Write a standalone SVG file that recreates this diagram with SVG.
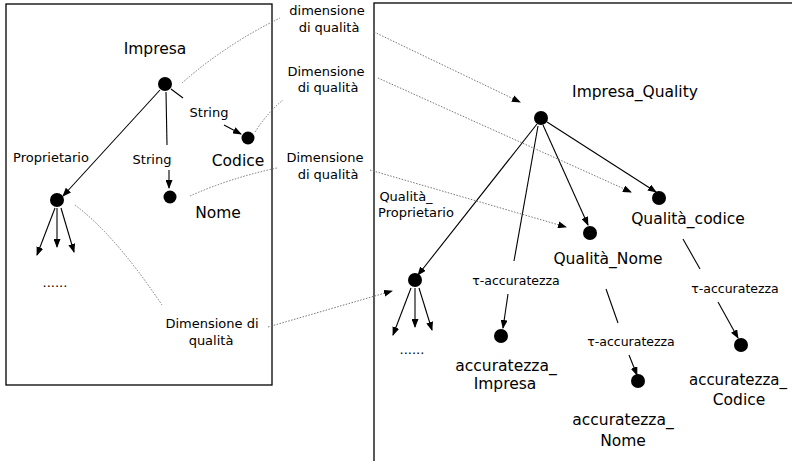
<svg xmlns="http://www.w3.org/2000/svg" width="792" height="461" viewBox="0 0 792 461">
  <defs>
    <marker id="arrow" markerUnits="userSpaceOnUse" markerWidth="9" markerHeight="7" refX="8" refY="3.5" orient="auto">
      <path d="M0,0 L9,3.5 L0,7 z" fill="#000"/>
    </marker>
  </defs>
  <style>
    text { font-family: "DejaVu Sans", "Liberation Sans", sans-serif; fill: #000; }
    .big { font-size: 15.5px; text-anchor: middle; }
    .mid { font-size: 13px; text-anchor: middle; }
    .sm { font-size: 12.5px; text-anchor: middle; }
    .box { fill: #fff; stroke: #000; stroke-width: 1.3; }
    .edge { stroke: #000; stroke-width: 1.1; fill: none; }
    .arr { marker-end: url(#arrow); }
    .dot { stroke: #777; stroke-width: 1; stroke-dasharray: 1.5 1.5; fill: none; }
    .node { fill: #000; }
  </style>

  <!-- panels -->
  <rect class="box" x="6" y="4" width="266" height="381"/>
  <rect class="box" x="374" y="3" width="430" height="470"/>

  <!-- connectors -->
  <g id="connectors">
    <!-- left tree -->
    <line class="edge arr" x1="160" y1="90" x2="63" y2="196"/>
    <line class="edge" x1="166" y1="92" x2="167" y2="145"/>
    <line class="edge arr" x1="169" y1="170" x2="169" y2="188"/>
    <line class="edge" x1="171" y1="89" x2="183" y2="98"/>
    <line class="edge arr" x1="224" y1="125" x2="241" y2="134"/>
    <line class="edge arr" x1="55" y1="208" x2="37" y2="255"/>
    <line class="edge arr" x1="57" y1="208" x2="57" y2="247"/>
    <line class="edge arr" x1="61" y1="208" x2="74" y2="252"/>

    <!-- right tree -->
    <line class="edge arr" x1="537" y1="124" x2="418" y2="275"/>
    <line class="edge" x1="538" y1="126" x2="514" y2="261"/>
    <line class="edge arr" x1="508" y1="294" x2="503" y2="328"/>
    <line class="edge arr" x1="543" y1="125" x2="588" y2="225"/>
    <line class="edge arr" x1="547" y1="122" x2="656" y2="192"/>
    <line class="edge" x1="606" y1="289" x2="618" y2="323"/>
    <line class="edge arr" x1="629" y1="355" x2="637" y2="375"/>
    <line class="edge" x1="683" y1="239" x2="700" y2="269"/>
    <line class="edge arr" x1="718" y1="302" x2="738" y2="338"/>
    <line class="edge arr" x1="411" y1="288" x2="393" y2="335"/>
    <line class="edge arr" x1="415" y1="288" x2="415" y2="327"/>
    <line class="edge arr" x1="419" y1="288" x2="432" y2="330"/>

    <!-- quality dimension links -->
    <path class="dot" d="M182,83 Q225,45 280,18"/>
    <path class="dot" d="M255,132 Q268,112 283,100"/>
    <path class="dot" d="M190,196 Q230,178 277,168"/>
    <path class="dot" d="M75,205 Q115,235 162,305"/>
    <path class="dot arr" d="M374,32 L520,102"/>
    <path class="dot arr" d="M378,78 L631,192"/>
    <path class="dot arr" d="M370,170 L566,227"/>
    <path class="dot arr" d="M268,327 L392,291"/>
  </g>

  <!-- left schema -->
  <g id="impresa"><circle class="node" cx="165" cy="84" r="7"/><text class="big" x="155" y="54">Impresa</text></g>
  <g id="codice"><circle class="node" cx="248" cy="138" r="6.5"/><text class="big" x="238" y="166">Codice</text><text class="mid" x="209" y="117">String</text></g>
  <g id="nome"><circle class="node" cx="170" cy="197" r="6.5"/><text class="big" x="218" y="218">Nome</text><text class="mid" x="152" y="164">String</text></g>
  <g id="proprietario"><circle class="node" cx="57" cy="200" r="7"/><text class="mid" x="51" y="162">Proprietario</text><text class="mid" x="55" y="287">......</text></g>

  <!-- dimension labels -->
  <g id="dim1"><text class="mid" x="327" y="15">dimensione</text><text class="mid" x="329" y="32">di qualità</text></g>
  <g id="dim2"><text class="mid" x="326" y="76">Dimensione</text><text class="mid" x="328" y="92">di qualità</text></g>
  <g id="dim3"><text class="mid" x="325" y="162">Dimensione</text><text class="mid" x="328" y="179">di qualità</text></g>
  <g id="dim4"><text class="mid" x="212" y="328">Dimensione di</text><text class="mid" x="211" y="345">qualità</text></g>

  <!-- right schema -->
  <g id="impresa_quality"><circle class="node" cx="541" cy="118" r="7"/><text class="big" x="635" y="97">Impresa_Quality</text></g>
  <g id="qualita_codice"><circle class="node" cx="659" cy="198" r="7"/><text class="big" x="688" y="224">Qualità_codice</text></g>
  <g id="qualita_nome"><circle class="node" cx="590" cy="233" r="7"/><text class="big" x="608" y="264">Qualità_Nome</text></g>
  <g id="qualita_proprietario"><circle class="node" cx="415" cy="280" r="7"/><text class="mid" x="406" y="201">Qualità_</text><text class="mid" x="416" y="217">Proprietario</text><text class="mid" x="412" y="354">......</text></g>
  <g id="acc_impresa"><circle class="node" cx="501" cy="336" r="7"/><text class="sm" x="516" y="285">τ-accuratezza</text><text class="big" x="506" y="371">accuratezza_</text><text class="big" x="505" y="389">Impresa</text></g>
  <g id="acc_nome"><circle class="node" cx="638" cy="381" r="7"/><text class="sm" x="631" y="346">τ-accuratezza</text><text class="big" x="623" y="425">accuratezza_</text><text class="big" x="623" y="446">Nome</text></g>
  <g id="acc_codice"><circle class="node" cx="741" cy="345" r="7"/><text class="sm" x="735" y="293">τ-accuratezza</text><text class="big" x="738" y="385" style="font-size:15px">accuratezza_</text><text class="big" x="739" y="405">Codice</text></g>
</svg>
